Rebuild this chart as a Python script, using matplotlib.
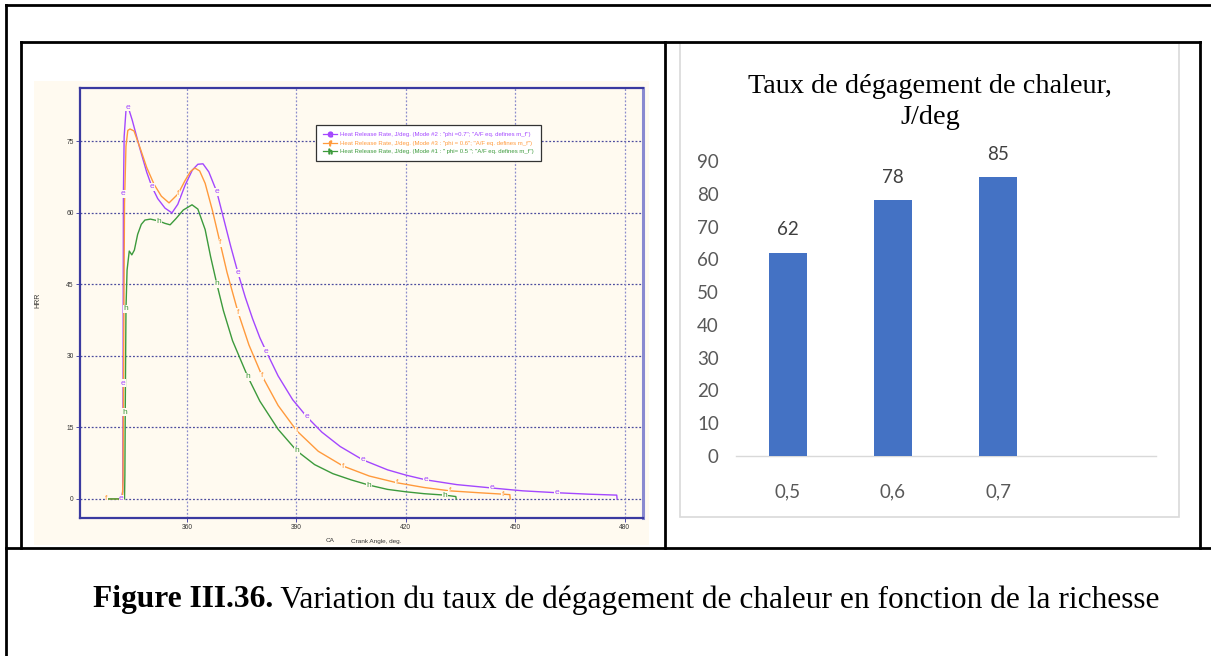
import matplotlib
matplotlib.use("Agg")
import matplotlib.pyplot as plt
from matplotlib.lines import Line2D
from matplotlib.patches import Rectangle

# ---------------- data ----------------
# Heat release rate vs crank angle (three equivalence ratios)
ca_phi07 = [342.0, 342.4, 342.5, 342.6, 342.8, 343.3, 343.9, 345.0, 347.0, 349.0,
            350.4, 352.0, 354.0, 355.9, 357.5, 359.5, 361.5, 363.0, 364.4, 366.0,
            368.2, 370.0, 372.0, 374.0, 376.0, 378.0, 380.0, 381.7, 385.0, 389.0,
            392.9, 397.0, 402.0, 408.2, 415.0, 420.0, 425.5, 434.0, 443.5, 452.0,
            461.4, 470.0, 477.8, 477.9]
hrr_phi07 = [0.0, 1.5, 24.3, 64.0, 76.0, 81.5, 82.2, 79.5, 73.8, 68.5,
             65.5, 63.0, 61.0, 60.0, 61.8, 65.8, 69.0, 70.2, 70.3, 68.6,
             64.4, 59.0, 53.0, 47.4, 42.3, 37.8, 33.8, 31.0, 25.8, 20.8,
             17.2, 14.0, 11.0, 8.2, 6.1, 5.0, 4.0, 3.0, 2.3, 1.7,
             1.3, 1.0, 0.8, 0.0]
mark_phi07 = [0, 2, 3, 6, 10, 20, 23, 27, 30, 33, 36, 38, 40]

ca_phi06 = [337.9, 342.3, 342.5, 342.7, 342.9, 343.3, 343.8, 344.4, 345.5, 347.0,
            349.0, 351.0, 353.0, 355.1, 357.6, 359.5, 361.0, 362.2, 363.5, 365.0,
            367.0, 369.1, 371.0, 374.0, 377.0, 380.6, 385.0, 390.1, 396.0, 402.8,
            410.0, 417.5, 425.0, 432.0, 440.0, 446.6, 448.5, 448.6]
hrr_phi06 = [0.0, 0.0, 4.0, 35.0, 62.0, 74.0, 77.3, 77.6, 77.2, 74.0,
             69.5, 66.0, 63.5, 62.1, 64.0, 66.8, 68.7, 69.4, 68.8, 66.2,
             60.5, 53.7, 47.5, 39.2, 32.3, 25.8, 19.6, 14.3, 10.0, 6.9,
             4.8, 3.4, 2.4, 1.7, 1.3, 1.0, 0.9, 0.0]
mark_phi06 = [0, 14, 21, 23, 25, 27, 29, 31, 33, 35]

ca_phi05 = [337.8, 342.9, 343.0, 343.1, 343.3, 343.6, 344.2, 344.9, 345.6, 346.5,
            347.5, 348.5, 350.0, 352.3, 354.0, 355.4, 357.0, 359.0, 361.4, 363.0,
            365.0, 366.5, 368.2, 370.0, 372.5, 376.7, 380.0, 385.0, 390.1, 395.0,
            400.0, 405.0, 409.9, 415.0, 420.0, 425.0, 430.7, 433.7, 433.8]
hrr_phi05 = [0.0, 0.0, 5.0, 18.2, 39.9, 48.0, 52.0, 51.2, 52.2, 55.5,
             57.6, 58.5, 58.7, 58.3, 57.8, 57.5, 58.8, 60.6, 61.7, 60.8,
             56.5, 50.8, 45.1, 39.5, 33.2, 25.6, 20.5, 14.6, 10.1, 7.2,
             5.3, 4.0, 2.9, 2.0, 1.5, 1.1, 0.8, 0.5, 0.0]
mark_phi05 = [3, 4, 13, 22, 25, 28, 32, 36]

legend_labels = [
    'Heat Release Rate, J/deg. (Mode #2 : "phi =0.7"; "A/F eq. defines m_f")',
    'Heat Release Rate, J/deg. (Mode #3 : "phi = 0.6"; "A/F eq. defines m_f")',
    'Heat Release Rate, J/deg. (Mode #1 : " phi= 0.5 "; "A/F eq. defines m_f")',
]
ca_ticks = [360, 390, 420, 450, 480]
hrr_ticks = [0, 15, 30, 45, 60, 75]

# Peak heat release rate per equivalence ratio
richesse = ["0,5", "0,6", "0,7"]
peak_hrr = [62, 78, 85]
bar_ticks = [0, 10, 20, 30, 40, 50, 60, 70, 80, 90]

bar_title = "Taux de dégagement de chaleur,\nJ/deg"
caption_bold = "Figure III.36."
caption_text = " Variation du taux de dégagement de chaleur en fonction de la richesse"

# ---------------- layout helpers ----------------
W, H = 1211, 656
fig = plt.figure(figsize=(W / 100, H / 100), dpi=100)
fig.patch.set_facecolor("white")


def rect(x0, y0, x1, y1):
    return [x0 / W, 1 - y1 / H, (x1 - x0) / W, (y1 - y0) / H]


def hline(y, x0, x1, lw=2.0, color="black"):
    fig.add_artist(Line2D([x0 / W, x1 / W], [1 - y / H, 1 - y / H],
                          transform=fig.transFigure, color=color, lw=lw))


def vline(x, y0, y1, lw=2.0, color="black"):
    fig.add_artist(Line2D([x / W, x / W], [1 - y0 / H, 1 - y1 / H],
                          transform=fig.transFigure, color=color, lw=lw))


# table borders
hline(5, 6, 1211)
vline(6, 5, 656)
hline(42, 21, 1200)
vline(21, 42, 548)
vline(665, 42, 548)
vline(1200, 42, 548)
hline(548, 6, 1211)

# cream panel behind the engine-simulation plot
cream = "#FFFAF0"
fig.add_artist(Rectangle((34 / W, 1 - 545 / H), (649 - 34) / W, (545 - 81) / H,
                         transform=fig.transFigure, facecolor=cream,
                         edgecolor="none", zorder=0))

# ---------------- left: HRR vs crank angle ----------------
small = dict(family="Liberation Sans", color="#333333")
ax = fig.add_axes(rect(80, 88, 643, 518))
ax.set_facecolor(cream)
ax.set_xlim(330.7, 485)
ax.set_ylim(-4.0, 86.2)
ax.set_xticks(ca_ticks)
ax.set_yticks(hrr_ticks)
ax.tick_params(labelsize=4.8, labelcolor="#333333", length=3, width=0.6,
               color="#333399", pad=1.5)
for t in ax.get_xticklabels() + ax.get_yticklabels():
    t.set_family("Liberation Sans")

for yv in hrr_ticks:
    ax.axhline(yv, color="#4B4B9E", lw=0.9, ls=(0, (1.5, 1.5)), zorder=1)
for xv in ca_ticks:
    ax.axvline(xv, color="#8C8CCC", lw=0.9, ls=(0, (1.5, 1.5)), zorder=1)

for side in ("left", "bottom", "top"):
    ax.spines[side].set_color("#3A3AA0")
    ax.spines[side].set_linewidth(1.6)
ax.spines["right"].set_color("#8A8AD0")
ax.spines["right"].set_linewidth(2.2)

series = [
    (ca_phi07, hrr_phi07, mark_phi07, "#A347FF", "e"),
    (ca_phi06, hrr_phi06, mark_phi06, "#FF9A3C", "f"),
    (ca_phi05, hrr_phi05, mark_phi05, "#3C9A3C", "h"),
]
handles = []
for ca, hrr, marks, col, letter in series:
    ax.plot(ca, hrr, color=col, lw=1.0, zorder=3)
    for i in marks:
        ax.text(ca[i], hrr[i], letter, color=col, fontsize=6,
                family="Liberation Sans", ha="center", va="center", zorder=4,
                bbox=dict(boxstyle="square,pad=0.05", fc=cream, ec="none"))
    handles.append(Line2D([], [], color=col, lw=0.9,
                          marker=r"$\mathrm{%s}$" % letter, markersize=3.5))

leg = ax.legend(handles, legend_labels, loc="upper left",
                bbox_to_anchor=(0.419, 0.914), frameon=True,
                fancybox=False, edgecolor="#333333", facecolor="white",
                framealpha=1.0, handlelength=2.3, handletextpad=0.5,
                borderpad=1.2, labelspacing=0.5, borderaxespad=0.0,
                prop={"family": "Liberation Sans", "size": 4.35})
leg.get_frame().set_linewidth(0.9)
for txt, (_, _, _, col, _) in zip(leg.get_texts(), series):
    txt.set_color(col)

fig.text(38 / W, 1 - 300 / H, "HRR", rotation=90, fontsize=5, ha="center",
         va="center", **small)
fig.text(330 / W, 1 - 541 / H, "CA", fontsize=4.6, ha="center", va="center",
         **small)
fig.text(351 / W, 1 - 541 / H, "Crank Angle, deg.", fontsize=4.6, ha="left",
         va="center", **small)

# ---------------- right: peak HRR bar chart ----------------
fig.add_artist(Rectangle((680 / W, 1 - 517 / H), (1179 - 680) / W, (517 - 43) / H,
                         transform=fig.transFigure, facecolor="white",
                         edgecolor="#D9D9D9", lw=1.2, zorder=1))

bx = fig.add_axes(rect(735.5, 161, 1155.5, 456))
bx.set_facecolor("none")
bx.set_zorder(2)
pos = list(range(len(richesse)))
bars = bx.bar(pos, peak_hrr, width=0.36, color="#4472C4", zorder=3)
bx.set_xlim(-0.5, 3.5)
bx.set_ylim(0, 90)
bx.set_yticks(bar_ticks)
bx.set_xticks(pos)
bx.set_xticklabels(richesse)
bx.tick_params(length=0, labelsize=13.5, labelcolor="#595959")
bx.tick_params(axis="x", pad=20)
bx.tick_params(axis="y", pad=12)
for t in bx.get_xticklabels() + bx.get_yticklabels():
    t.set_family("Lato")
for s in ("left", "right", "top"):
    bx.spines[s].set_visible(False)
bx.spines["bottom"].set_color("#D9D9D9")
bx.spines["bottom"].set_linewidth(1.0)
for b, v in zip(bars, peak_hrr):
    bx.text(b.get_x() + b.get_width() / 2, v + 4.4, f"{v}", ha="center",
            va="bottom", fontsize=13.5, family="Lato", color="#404040")

fig.text(930 / W, 1 - 102 / H, bar_title, ha="center", va="center",
         fontsize=20.3, family="Liberation Serif", color="black",
         linespacing=1.3)

# ---------------- caption ----------------
fig.canvas.draw()
renderer = fig.canvas.get_renderer()
cb = fig.text(93 / W, 1 - 600 / H, caption_bold, fontsize=22.6, weight="bold",
              family="Liberation Serif", ha="left", va="center")
ext = cb.get_window_extent(renderer=renderer)
fig.text(ext.x1 / W, 1 - 600 / H, caption_text, fontsize=22.6,
         family="Liberation Serif", ha="left", va="center")

fig.savefig("out.png", dpi=100, facecolor="white")
